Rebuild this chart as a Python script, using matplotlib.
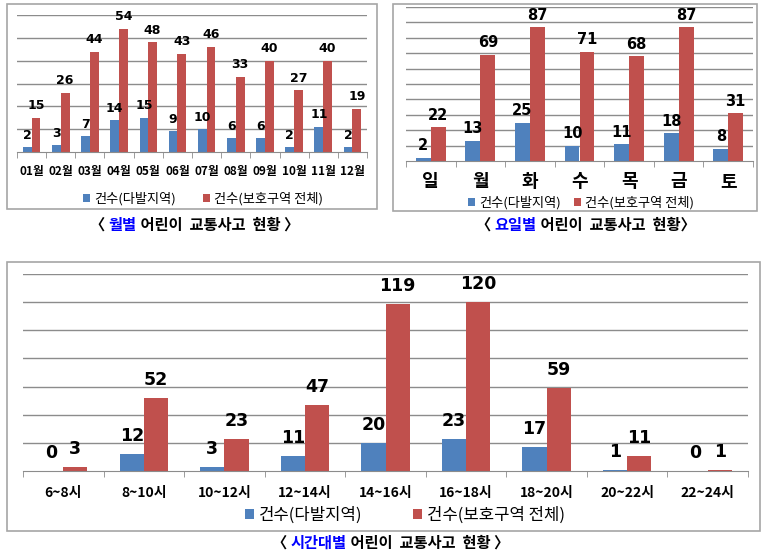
import numpy as np
import matplotlib
matplotlib.use('Agg')
import matplotlib.pyplot as plt
from matplotlib.patches import Rectangle

# data
months = ['01월', '02월', '03월', '04월', '05월', '06월', '07월', '08월', '09월', '10월', '11월', '12월']
month_hot = [2, 3, 7, 14, 15, 9, 10, 6, 6, 2, 11, 2]
month_all = [15, 26, 44, 54, 48, 43, 46, 33, 40, 27, 40, 19]

days = ['일', '월', '화', '수', '목', '금', '토']
day_hot = [2, 13, 25, 10, 11, 18, 8]
day_all = [22, 69, 87, 71, 68, 87, 31]

hours = ['6~8시', '8~10시', '10~12시', '12~14시', '14~16시', '16~18시', '18~20시', '20~22시', '22~24시']
hour_hot = [0, 12, 3, 11, 20, 23, 17, 1, 0]
hour_all = [3, 52, 23, 47, 119, 120, 59, 11, 1]

series_names = ['건수(다발지역)', '건수(보호구역 전체)']

BLUE = '#4F81BD'
RED = '#C0504D'
GRID = '#8c8c8c'
KR = ['Noto Sans CJK KR', 'DejaVu Sans']

W, H = 768, 559
fig = plt.figure(figsize=(W / 100, H / 100), dpi=100)
fig.patch.set_facecolor('white')


def px_axes(x0, y0, x1, y1):
    return fig.add_axes([x0 / W, 1 - y1 / H, (x1 - x0) / W, (y1 - y0) / H])


def border(x0, y0, x1, y1):
    fig.add_artist(Rectangle((x0 / W, 1 - y1 / H), (x1 - x0) / W, (y1 - y0) / H,
                             transform=fig.transFigure, fill=False, ec='#a6a6a6', lw=1.2))


def bar_panel(ax, cats, hot, al, ymax, step, lab_size, tick_size, tick_pad, off,
              leg_xy, leg_size, colspace):
    n = len(cats)
    x = np.arange(n)
    b1 = ax.bar(x - 0.15, hot, 0.3, color=BLUE, zorder=2)
    b2 = ax.bar(x + 0.15, al, 0.3, color=RED, zorder=2)
    ax.set_xlim(-0.5, n - 0.5)
    ax.set_ylim(0, ymax)
    for v in range(step, ymax + 1, step):
        ax.axhline(v, color=GRID, lw=1, zorder=1)
    for s in ['top', 'right', 'left']:
        ax.spines[s].set_visible(False)
    ax.spines['bottom'].set_color(GRID)
    ax.set_yticks([])
    ax.set_xticks(x)
    ax.set_xticklabels(cats, fontsize=tick_size, fontweight='bold', family=KR)
    ax.tick_params(axis='x', which='major', length=0, pad=tick_pad)
    ax.set_xticks(np.arange(-0.5, n), minor=True)
    ax.tick_params(axis='x', which='minor', length=4, color=GRID, direction='out')
    for xs, vals in [(x - 0.15, hot), (x + 0.15, al)]:
        for xi, v in zip(xs, vals):
            ax.annotate(str(v), (xi, v), xytext=(0, off), textcoords='offset pixels',
                        ha='center', va='center', fontsize=lab_size, fontweight='bold',
                        family='DejaVu Sans')
    ax.legend([b1, b2], series_names, loc='center',
              bbox_to_anchor=(leg_xy[0] / W, 1 - leg_xy[1] / H), bbox_transform=fig.transFigure,
              ncol=2, frameon=False, prop={'family': KR, 'size': leg_size},
              handlelength=0.55, handleheight=0.55, handletextpad=0.3, columnspacing=colspace,
              borderpad=0, borderaxespad=0)


# panel borders
border(7, 4, 377, 209)
border(393, 4, 757, 211)
border(7, 262, 760, 531)

ax1 = px_axes(17, 15, 367, 152)
bar_panel(ax1, months, month_hot, month_all, 60, 10, 9, 8.5, 9, 12, (203, 199), 9.5, 2.0)

ax2 = px_axes(406, 7, 753, 161)
bar_panel(ax2, days, day_hot, day_all, 100, 10, 10.5, 13, 8, 12, (581, 203), 9.5, 1.0)

ax3 = px_axes(23, 274, 748, 471)
bar_panel(ax3, hours, hour_hot, hour_all, 140, 20, 12.5, 10, 11, 18, (405, 515), 12, 3.0)

# captions
cap = fig.add_axes([0, 0, 1, 1])
cap.axis('off')
cap.set_xlim(0, W)
cap.set_ylim(H, 0)


def caption(x, y, parts, size):
    prev = None
    for s, c in parts:
        if prev is None:
            prev = cap.text(x, y, s, color=c, fontsize=size, fontweight='bold',
                            family=KR, ha='left', va='center')
        else:
            prev = cap.annotate(s, xy=(1, 0.5), xycoords=prev, color=c, fontsize=size,
                                fontweight='bold', family=KR, ha='left', va='center')


caption(90, 225, [('〈 ', 'black'), ('월별', '#0000ff'), (' 어린이  교통사고  현황 〉', 'black')], 11)
caption(476, 225, [('〈 ', 'black'), ('요일별', '#0000ff'), (' 어린이  교통사고  현황〉', 'black')], 11)
caption(272, 543, [('〈 ', 'black'), ('시간대별', '#0000ff'), (' 어린이  교통사고  현황 〉', 'black')], 11)

fig.savefig('out.png', dpi=100)
